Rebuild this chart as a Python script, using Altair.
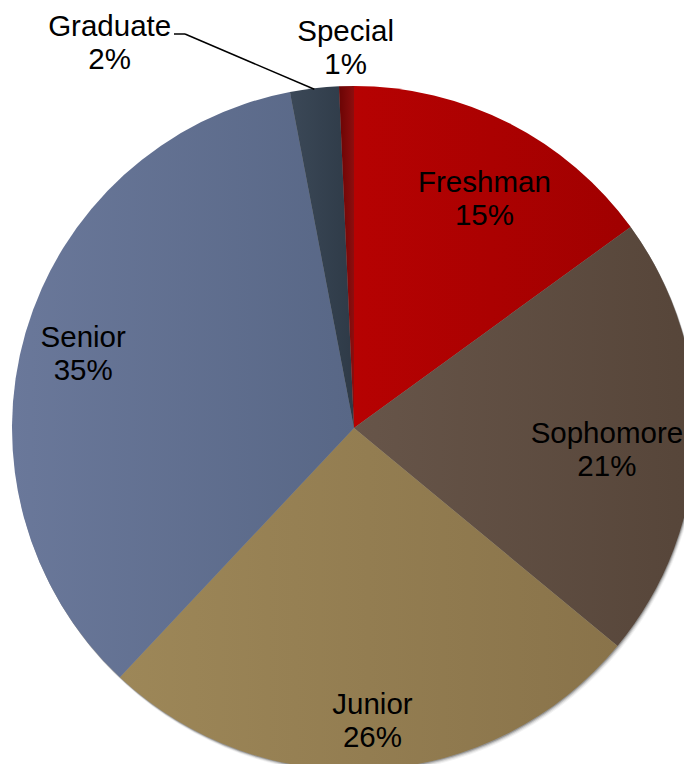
import altair as alt
import pandas as pd
import math

categories = ["Freshman", "Sophomore", "Junior", "Senior", "Graduate", "Special"]
percents = [15.0, 21.0, 26.0, 35.0, 2.3, 0.7]
labels_pct = ["15%", "21%", "26%", "35%", "2%", "1%"]
# light (left) -> dark (right) shading of each slice
colors_light = ["#B60202", "#675549", "#9D8758", "#6A789A", "#3B4857", "#6A0404"]
colors_dark = ["#A00000", "#564539", "#89734A", "#586786", "#2E3A47", "#8C0E0E"]

df = pd.DataFrame({"category": categories, "value": percents, "pct": labels_pct})
df["end"] = df["value"].cumsum()
df["start"] = df["end"] - df["value"]
df["mid"] = df["end"] - df["value"] / 2
df["label"] = df["category"] + "\n" + df["pct"]

W, H = 676, 756
CX, CY, R = 346, 420, 342
FONT = "Liberation Sans"
LH = 33

theta_scale = alt.Scale(domain=[0, 100])
base = alt.Chart(df)

layers = []

# soft drop shadow toward the lower right
for off, op in [(1.0, 0.22), (2.0, 0.14), (3.0, 0.08), (4.0, 0.05)]:
    layers.append(
        alt.Chart(pd.DataFrame({"v": [100]})).mark_arc(
            outerRadius=R, fill="#000000", opacity=op, stroke=None
        ).encode(
            theta=alt.Theta("v:Q", scale=theta_scale),
            x=alt.value(CX + off * 0.6),
            y=alt.value(CY + off),
        )
    )

for cat, cl, cd in zip(categories, colors_light, colors_dark):
    grad = alt.Gradient(
        gradient="linear",
        stops=[alt.GradientStop(color=cl, offset=0), alt.GradientStop(color=cd, offset=1)],
        x1=0, x2=1, y1=0, y2=0,
    )
    layers.append(
        base.transform_filter(alt.datum.category == cat)
        .mark_arc(outerRadius=R, fill=grad, stroke=None)
        .encode(
            theta=alt.Theta("start:Q", scale=theta_scale, stack=None),
            theta2="end:Q",
            x=alt.value(CX),
            y=alt.value(CY),
        )
    )

# per-label radius and fine offsets (styles)
label_style = {
    "Freshman": (263, 11, 6),
    "Sophomore": (253, 0, 15),
    "Junior": (294, 0, 0),
    "Senior": (282, 0, 5),
    "Graduate": (460, -191, 72),
    "Special": (380, 0, 0),
}

for cat in categories:
    r, dx, dy = label_style[cat]
    layers.append(
        base.transform_filter(alt.datum.category == cat)
        .mark_text(
            font=FONT, fontSize=29.5, lineBreak="\n", lineHeight=LH,
            align="center", baseline="middle", color="#000000",
            dx=dx, dy=dy - LH / 2,
        )
        .encode(
            theta=alt.Theta("mid:Q", scale=theta_scale, stack=None),
            radius=alt.value(r),
            text="label:N",
            x=alt.value(CX),
            y=alt.value(CY),
        )
    )

# leader line for Graduate: from label elbow to the slice edge at its mid-angle
g = df[df["category"] == "Graduate"].iloc[0]
ang = g["mid"] / 100 * 2 * math.pi
ex = CX + R * math.sin(ang)
ey = CY - R * math.cos(ang) + 1
one = pd.DataFrame({"k": [0]})
layers.append(
    alt.Chart(one).mark_rule(color="#000000", strokeWidth=1.5).encode(
        x=alt.value(166), x2=alt.value(177), y=alt.value(26), y2=alt.value(26)
    )
)
layers.append(
    alt.Chart(one).mark_rule(color="#000000", strokeWidth=1.5).encode(
        x=alt.value(177), x2=alt.value(ex), y=alt.value(26), y2=alt.value(ey)
    )
)

chart = alt.layer(*layers).properties(
    width=W, height=H, autosize=alt.AutoSizeParams(type="none"), padding=0
).configure_view(stroke=None)

chart.save("out.html", embed_options={"renderer": "svg", "actions": False})
